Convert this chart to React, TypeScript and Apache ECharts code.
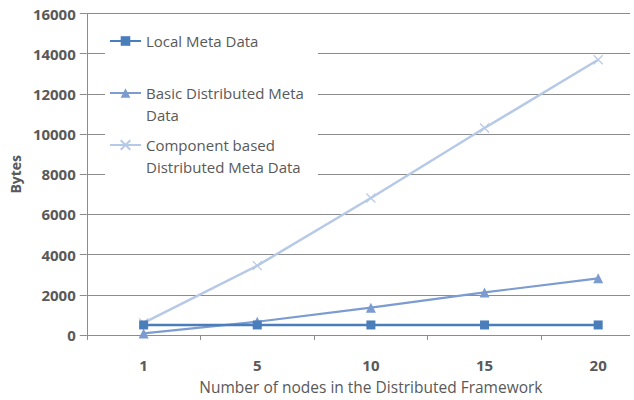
import React, { useEffect, useRef } from "react";
import * as echarts from "echarts";

const categories = ["1", "5", "10", "15", "20"];
const localMeta = [500, 500, 500, 500, 500];
const basicDistributed = [80, 660, 1360, 2120, 2820];
const componentDistributed = [600, 3450, 6820, 10300, 13700];
const yTicks = { min: 0, max: 16000, interval: 2000 };

const seriesNames = [
  "Local Meta Data",
  "Basic Distributed Meta Data",
  "Component based Distributed Meta Data",
];
const legendLabels: Record<string, string> = {
  "Local Meta Data": "Local Meta Data",
  "Basic Distributed Meta Data": "\nBasic Distributed Meta\nData",
  "Component based Distributed Meta Data": "\nComponent based\nDistributed Meta Data",
};

const colors = ["#4a7ebb", "#7b9bd1", "#b6c9e6"];
const FONT = "'Open Sans', 'DejaVu Sans', sans-serif";
const TXT = "#595959";
const GRID = "#8c8c8c";

export default function App() {
  const ref = useRef<HTMLDivElement>(null);
  useEffect(() => {
    if (!ref.current) return;
    const chart = echarts.init(ref.current, undefined, { renderer: "svg" });
    const legendBase = {
      orient: "vertical" as const,
      left: 109,
      padding: 0,
      itemWidth: 31,
      itemHeight: 12,
      formatter: (n: string) => legendLabels[n] ?? n,
      textStyle: { color: TXT, fontFamily: FONT, fontSize: 15, lineHeight: 22 },
      selectedMode: false,
    };
    chart.setOption({
      animation: false,
      backgroundColor: "#ffffff",
      textStyle: { fontFamily: FONT },
      grid: { left: 85, top: 13.5, width: 570, height: 321.5, containLabel: false },
      xAxis: {
        type: "category",
        data: categories,
        boundaryGap: true,
        name: "Number of nodes in the Distributed Framework",
        nameLocation: "middle",
        nameGap: 44,
        nameTextStyle: { color: TXT, fontSize: 15.5, fontFamily: FONT },
        axisLine: { lineStyle: { color: GRID, width: 1 } },
        axisTick: { show: true, length: 5, lineStyle: { color: GRID } },
        axisLabel: { color: TXT, fontSize: 15, fontWeight: "bold", margin: 22, fontFamily: FONT },
      },
      yAxis: {
        type: "value",
        min: yTicks.min,
        max: yTicks.max,
        interval: yTicks.interval,
        name: "Bytes",
        nameLocation: "middle",
        nameGap: 57,
        nameTextStyle: { color: TXT, fontSize: 14, fontWeight: "bold", fontFamily: FONT },
        axisLine: { show: true, lineStyle: { color: GRID, width: 1 } },
        axisTick: { show: true, length: 7, lineStyle: { color: GRID } },
        axisLabel: {
          color: TXT,
          fontSize: 15,
          fontWeight: "bold",
          margin: 11,
          fontFamily: FONT,
          formatter: (v: number) => String(v),
        },
        splitLine: { show: true, lineStyle: { color: GRID, width: 1 } },
      },
      graphic: [
        {
          type: "rect",
          z: 1,
          shape: { x: 105, y: 24, width: 213, height: 160 },
          style: { fill: "#ffffff" },
          silent: true,
        },
      ],
      legend: [
        { ...legendBase, top: 30, data: [seriesNames[0]] },
        { ...legendBase, top: 60, data: [seriesNames[1]] },
        { ...legendBase, top: 112, data: [seriesNames[2]] },
      ],
      series: [
        {
          name: seriesNames[0],
          type: "line",
          data: localMeta,
          symbol: "rect",
          symbolSize: 9,
          lineStyle: { color: colors[0], width: 2.5 },
          itemStyle: { color: colors[0] },
          z: 4,
        },
        {
          name: seriesNames[1],
          type: "line",
          data: basicDistributed,
          symbol: "triangle",
          symbolSize: 10,
          lineStyle: { color: colors[1], width: 2.2 },
          itemStyle: { color: colors[1] },
          z: 3,
        },
        {
          name: seriesNames[2],
          type: "line",
          data: componentDistributed,
          symbol: "path://M0,0L10,10M10,0L0,10",
          symbolSize: 9,
          lineStyle: { color: colors[2], width: 2.5 },
          itemStyle: { color: "none", borderColor: colors[2], borderWidth: 1.2 },
          z: 2,
        },
      ],
    });
    return () => chart.dispose();
  }, []);
  return (
    <div style={{ position: "absolute", left: 0, top: 0, width: 630, height: 400, overflow: "hidden", background: "#fff" }}>
      <div ref={ref} style={{ width: 660, height: 400 }} />
    </div>
  );
}
